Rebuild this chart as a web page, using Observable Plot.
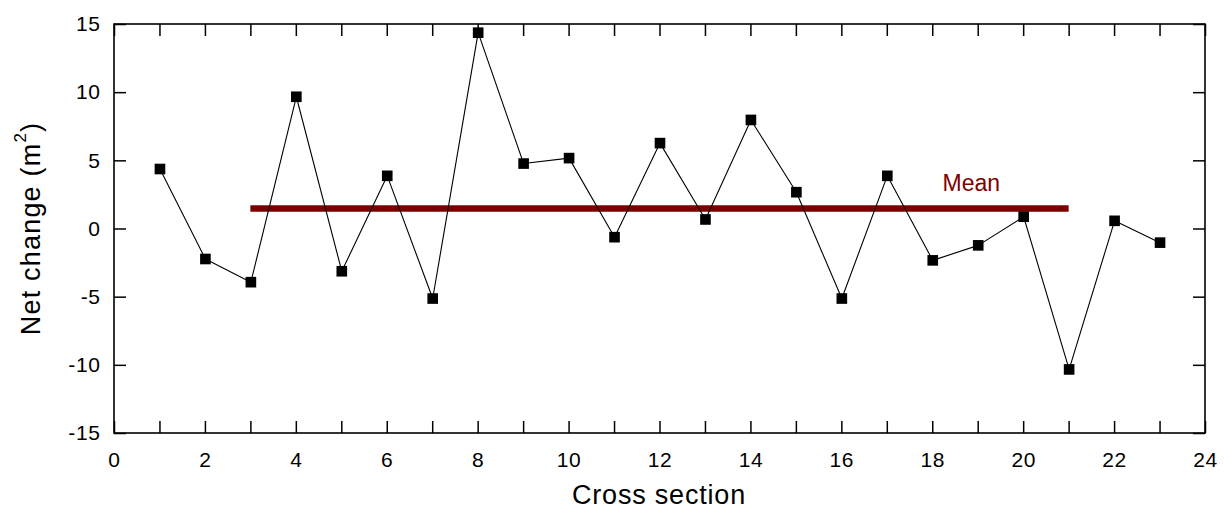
<!DOCTYPE html>
<html><head><meta charset="utf-8">
<script src="https://cdn.jsdelivr.net/npm/d3@7"></script>
<script src="https://cdn.jsdelivr.net/npm/@observablehq/plot@0.6"></script>
<style>
body{margin:0;background:#fff;} svg{display:block;}
svg g[aria-label="x-axis tick label"], svg g[aria-label="y-axis tick label"],
svg g[aria-label="x-axis tick label"] text, svg g[aria-label="y-axis tick label"] text { font-size: 21px !important; letter-spacing: 0.6px; }
</style>
</head><body><div id="chart"></div>
<script>
const crossSection = [1,2,3,4,5,6,7,8,9,10,11,12,13,14,15,16,17,18,19,20,21,22,23];
const netChange = [4.4,-2.2,-3.9,9.7,-3.1,3.9,-5.1,14.4,4.8,5.2,-0.6,6.3,0.7,8.0,2.7,-5.1,3.9,-2.3,-1.2,0.9,-10.3,0.6,-1.0];
const meanValue = 1.5, meanStart = 3, meanEnd = 21;
const meanLabel = {x: 18.85, y: 3.3, text: "Mean"};
const xTickLabels = [0,2,4,6,8,10,12,14,16,18,20,22,24];
const xTickMarks = d3.range(0, 25);
const yTickLabels = [-15,-10,-5,0,5,10,15];

const W = 1229, H = 512, mL = 114, mR = 24, mT = 24, mB = 79;
const fw = W - mL - mR, fh = H - mT - mB, tl = 12;
const data = crossSection.map((x, i) => ({x, y: netChange[i]}));

const plot = Plot.plot({
  width: W, height: H,
  marginLeft: mL, marginRight: mR, marginTop: mT, marginBottom: mB,
  style: {fontFamily: "'Liberation Sans', Arial, sans-serif", fontSize: "21px", color: "#000", background: "#fff"},
  x: {domain: [0, 24]},
  y: {domain: [-15, 15]},
  marks: [
    Plot.tickX(xTickMarks, {x: d => d, insetTop: fh - tl, stroke: "#000", strokeWidth: 1.5}),
    Plot.tickX(xTickMarks, {x: d => d, insetBottom: fh - tl, stroke: "#000", strokeWidth: 1.5}),
    Plot.tickY(yTickLabels, {y: d => d, insetRight: fw - tl, stroke: "#000", strokeWidth: 1.5}),
    Plot.tickY(yTickLabels, {y: d => d, insetLeft: fw - tl, stroke: "#000", strokeWidth: 1.5}),
    Plot.axisX(xTickLabels, {tickSize: 0, tickPadding: 19, label: null, tickFormat: d => String(d)}),
    Plot.axisY(yTickLabels, {tickSize: 0, tickPadding: 14, label: null, tickFormat: d => String(d)}),
    Plot.ruleY([meanValue], {x1: meanStart, x2: meanEnd, stroke: "#7b0000", strokeWidth: 6.5}),
    Plot.line(data, {x: "x", y: "y", stroke: "#000", strokeWidth: 1.1}),
    Plot.dot(data, {x: "x", y: "y", symbol: "square", r: 6, fill: "#000", stroke: "none"}),
    Plot.text([meanLabel], {x: "x", y: "y", text: "text", fill: "#800000", fontSize: 23})
  ]
});

const svg = d3.select(plot);
svg.append("rect")
  .attr("x", mL).attr("y", mT).attr("width", fw).attr("height", fh)
  .attr("fill", "none").attr("stroke", "#000").attr("stroke-width", 1.6);
svg.append("text")
  .attr("x", 659).attr("y", 497)
  .attr("text-anchor", "middle").attr("dominant-baseline", "middle")
  .attr("font-size", 27).attr("letter-spacing", "0.8px").attr("fill", "#000")
  .text("Cross section");
const yl = svg.append("text")
  .attr("transform", `translate(33,${mT + fh / 2}) rotate(-90)`)
  .attr("text-anchor", "middle").attr("dominant-baseline", "middle")
  .attr("font-size", 27).attr("letter-spacing", "1.2px").attr("fill", "#000");
yl.append("tspan").text("Net change (m");
yl.append("tspan").attr("font-size", 17).attr("dy", -11).text("2");
yl.append("tspan").attr("dy", 11).text(")");

document.getElementById("chart").appendChild(plot);
</script>
</body></html>
